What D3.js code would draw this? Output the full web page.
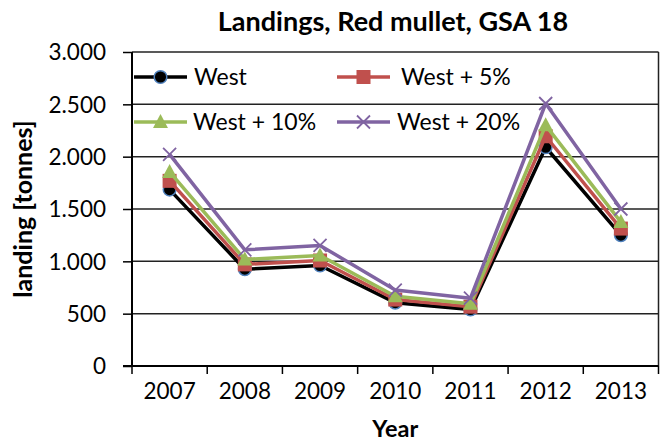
<!DOCTYPE html>
<html><head><meta charset="utf-8">
<script src="https://cdn.jsdelivr.net/npm/d3@7"></script>
<style>html,body{margin:0;padding:0;background:#fff;}svg{display:block;}</style>
</head><body>
<script>
const years = ["2007","2008","2009","2010","2011","2012","2013"];
const west   = [1685, 925, 960, 605, 540, 2090, 1250];
const west5  = [1769, 971, 1008, 635, 567, 2195, 1313];
const west10 = [1854, 1018, 1056, 666, 594, 2299, 1375];
const west20 = [2022, 1110, 1152, 726, 648, 2508, 1500];
const yTicks = [0, 500, 1000, 1500, 2000, 2500, 3000];
const yTickLabels = ["0","500","1.000","1.500","2.000","2.500","3.000"];
const seriesNames = ["West","West + 5%","West + 10%","West + 20%"];

const series = [
  {name: seriesNames[0], values: west,   color: "#000000", marker: "circle"},
  {name: seriesNames[1], values: west5,  color: "#c0504d", marker: "square"},
  {name: seriesNames[2], values: west10, color: "#9bbb59", marker: "triangle"},
  {name: seriesNames[3], values: west20, color: "#8064a2", marker: "x"}
];

const W = 663, H = 441;
const m = {left: 132, right: 4.5, top: 52, bottom: 75};
const font = "Lato, 'Open Sans', sans-serif";

const svg = d3.select("body").append("svg").attr("width", W).attr("height", H);

const x = d3.scaleBand().domain(years).range([m.left, W - m.right]).paddingInner(0).paddingOuter(0);
const y = d3.scaleLinear().domain([0, 3000]).range([H - m.bottom, m.top]);

// gridlines
svg.append("g").selectAll("line").data(yTicks.slice(1)).join("line")
  .attr("x1", m.left).attr("x2", W - m.right)
  .attr("y1", d => y(d)).attr("y2", d => y(d))
  .attr("stroke", "#222").attr("stroke-width", 1.5);

// right border
svg.append("line").attr("x1", W - m.right).attr("x2", W - m.right)
  .attr("y1", y(3000)).attr("y2", y(0)).attr("stroke", "#222").attr("stroke-width", 1.5);

// y axis
const yAxis = d3.axisLeft(y).tickValues(yTicks).tickSize(9).tickPadding(17)
  .tickFormat((d, i) => yTickLabels[i]);
const gy = svg.append("g").attr("transform", `translate(${m.left},0)`).call(yAxis);
gy.select(".domain").attr("stroke", "#000").attr("stroke-width", 2).attr("d", `M0,${y(3000)}V${y(0)}`);
gy.selectAll(".tick line").attr("stroke", "#000").attr("stroke-width", 1.5);
gy.selectAll(".tick text").attr("font-family", font).attr("font-size", 22.5).attr("fill", "#000").attr("dy", "0.35em");

// x axis
const xAxis = d3.axisBottom(x).tickSize(0).tickPadding(17);
const gx = svg.append("g").attr("transform", `translate(0,${y(0)})`).call(xAxis);
gx.select(".domain").attr("stroke", "#000").attr("stroke-width", 2).attr("d", `M${m.left - 9},0H${W - m.right}`);
gx.selectAll(".tick text").attr("font-family", font).attr("font-size", 22.5).attr("fill", "#000").attr("dy", "0.71em");
// boundary ticks between categories
const bounds = years.map(d => x(d)).concat([x(years[years.length - 1]) + x.bandwidth()]);
gx.append("g").selectAll("line").data(bounds).join("line")
  .attr("x1", d => d).attr("x2", d => d).attr("y1", 0).attr("y2", 8)
  .attr("stroke", "#000").attr("stroke-width", 1.5);

// markers
function drawMarker(g, type, cx, cy, color) {
  if (type === "circle") {
    g.append("circle").attr("cx", cx).attr("cy", cy).attr("r", 6.3)
      .attr("fill", "#000").attr("stroke", "#4f81bd").attr("stroke-width", 1.5);
  } else if (type === "square") {
    g.append("rect").attr("x", cx - 7).attr("y", cy - 7).attr("width", 14).attr("height", 14)
      .attr("fill", color);
  } else if (type === "triangle") {
    g.append("path").attr("d", `M${cx},${cy - 8}L${cx + 7.5},${cy + 6}L${cx - 7.5},${cy + 6}Z`)
      .attr("fill", color);
  } else if (type === "x") {
    g.append("path").attr("d", `M${cx - 6.5},${cy - 6.5}L${cx + 6.5},${cy + 6.5}M${cx - 6.5},${cy + 6.5}L${cx + 6.5},${cy - 6.5}`)
      .attr("stroke", color).attr("stroke-width", 1.8).attr("fill", "none");
  }
}

const cxOf = d => x(d) + x.bandwidth() / 2;
const line = d3.line().x((v, i) => cxOf(years[i])).y(v => y(v));

series.forEach(s => {
  const g = svg.append("g");
  g.append("path").datum(s.values).attr("d", line)
    .attr("fill", "none").attr("stroke", s.color).attr("stroke-width", 3.5)
    .attr("stroke-linejoin", "round");
  s.values.forEach((v, i) => drawMarker(g, s.marker, cxOf(years[i]), y(v), s.color));
});

// legend
const legendPos = [
  {lx: 134, ly: 77, tx: 194},
  {lx: 337, ly: 77, tx: 401},
  {lx: 134, ly: 122, tx: 193},
  {lx: 337, ly: 122, tx: 397}
];
series.forEach((s, i) => {
  const p = legendPos[i];
  const g = svg.append("g");
  g.append("line").attr("x1", p.lx).attr("x2", p.lx + 53).attr("y1", p.ly).attr("y2", p.ly)
    .attr("stroke", s.color).attr("stroke-width", 3.5);
  drawMarker(g, s.marker, p.lx + 26.5, p.ly, s.color);
  g.append("text").attr("x", p.tx).attr("y", p.ly).attr("dy", "0.35em")
    .attr("font-family", font).attr("font-size", 23).attr("fill", "#000").text(s.name);
});

// title
svg.append("text").attr("x", 393).attr("y", 31).attr("text-anchor", "middle")
  .attr("font-family", font).attr("font-weight", "bold").attr("font-size", 27)
  .text("Landings, Red mullet, GSA 18");

// axis titles
svg.append("text").attr("x", (m.left + W - m.right) / 2).attr("y", 437).attr("text-anchor", "middle")
  .attr("font-family", font).attr("font-weight", "bold").attr("font-size", 23.5)
  .text("Year");
svg.append("text").attr("transform", `translate(32,${(y(0) + y(3000)) / 2}) rotate(-90)`)
  .attr("text-anchor", "middle")
  .attr("font-family", font).attr("font-weight", "bold").attr("font-size", 25)
  .text("landing [tonnes]");
</script>
</body></html>
